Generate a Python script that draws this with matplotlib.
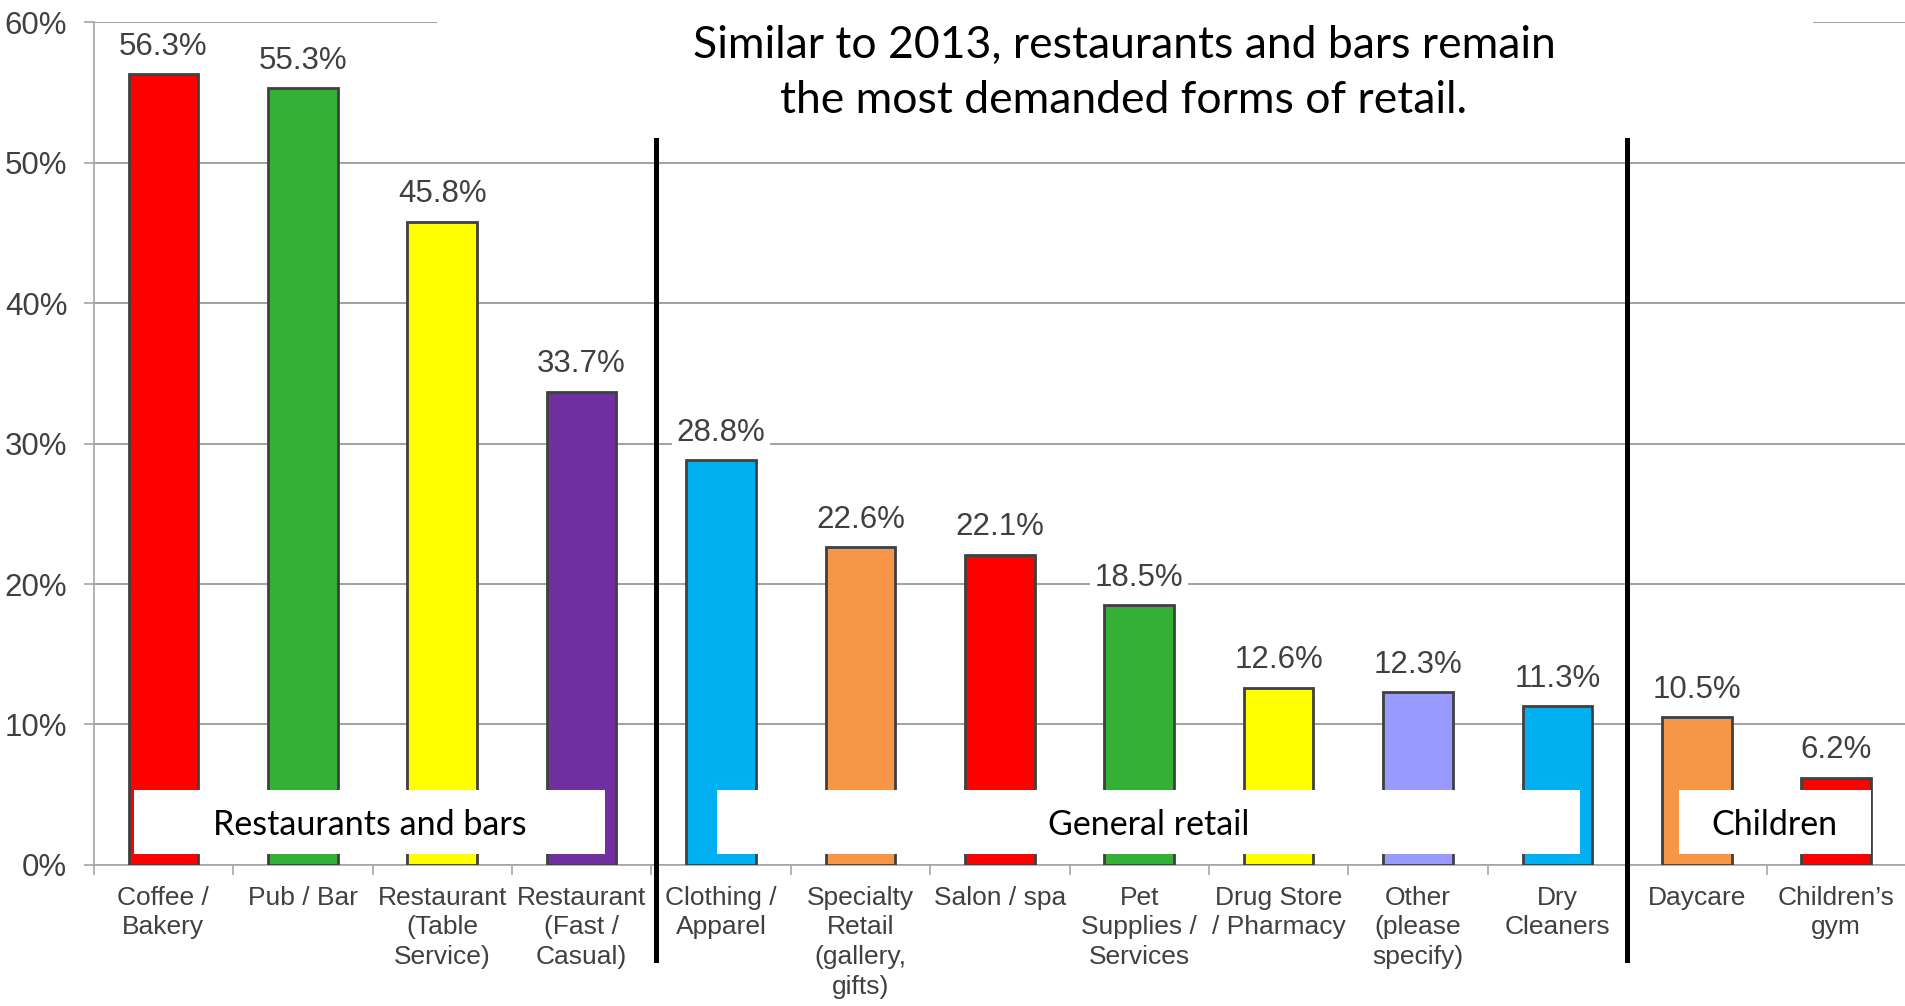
import matplotlib.pyplot as plt
from matplotlib.patches import Rectangle

categories = ['Coffee /\nBakery', 'Pub / Bar', 'Restaurant\n(Table\nService)', 'Restaurant\n(Fast /\nCasual)',
              'Clothing /\nApparel', 'Specialty\nRetail\n(gallery,\ngifts)', 'Salon / spa',
              'Pet\nSupplies /\nServices', 'Drug Store\n/ Pharmacy', 'Other\n(please\nspecify)',
              'Dry\nCleaners', 'Daycare', 'Children\u2019s\ngym']
values = [56.3, 55.3, 45.8, 33.7, 28.8, 22.6, 22.1, 18.5, 12.6, 12.3, 11.3, 10.5, 6.2]
colors = ['#FF0000', '#33B035', '#FFFF00', '#7030A0', '#00B0F0', '#F79646', '#FF0000',
          '#33B035', '#FFFF00', '#9999FF', '#00B0F0', '#F79646', '#FF0000']

groups = ['Restaurants and bars', 'General retail', 'Children']
group_spans = [(-0.21, 3.17), (3.97, 10.16), (10.87, 12.25)]
dividers = [3.53, 10.5]

title = 'Similar to 2013, restaurants and bars remain\nthe most demanded forms of retail.'

fig = plt.figure(figsize=(19.05, 10.06), dpi=100)
ax = fig.add_axes([0.0492, 0.1402, 0.9513, 0.8378])

x = range(len(values))
bars = ax.bar(x, values, width=0.5, color=colors, edgecolor='#404040', linewidth=2, zorder=3)

ax.set_xlim(-0.5, len(values) - 0.5)
ax.set_ylim(0, 60)
ax.set_yticks(range(0, 61, 10))
ax.set_yticklabels([f'{v}%' for v in range(0, 61, 10)])
ax.yaxis.grid(True, color='#888888', linewidth=1.1, zorder=0)
ax.set_axisbelow(True)

ax.set_xticks(list(x))
ax.set_xticklabels(categories, linespacing=1.3, va='top')
ax.set_xticks([i - 0.5 for i in range(len(values) + 1)], minor=True)
ax.tick_params(axis='x', which='major', length=0, pad=15, labelsize=19, labelcolor='#404040')
ax.tick_params(axis='x', which='minor', length=7, color='#A6A6A6', width=1.2)
ax.tick_params(axis='y', length=7, color='#A6A6A6', width=1.2, pad=12, labelsize=22.5,
               labelcolor='#404040')
for lab in ax.get_xticklabels() + ax.get_yticklabels():
    lab.set_family('Liberation Sans')

for s in ['top', 'right']:
    ax.spines[s].set_visible(False)
ax.spines['left'].set_color('#A6A6A6')
ax.spines['bottom'].set_color('#A6A6A6')
ax.spines['left'].set_linewidth(1.2)
ax.spines['bottom'].set_linewidth(1.2)

for xi, v in zip(x, values):
    ax.annotate(f'{v}%', (xi, v), xytext=(0, 9), textcoords='offset points',
                ha='center', va='bottom', fontsize=22.5, color='#404040',
                family='Liberation Sans', zorder=5,
                bbox=dict(boxstyle='square,pad=0.15', fc='white', ec='none'))

for name, (x0, x1) in zip(groups, group_spans):
    ax.add_patch(Rectangle((x0, 0.78), x1 - x0, 4.56, facecolor='white', edgecolor='none', zorder=6))
    ax.text((x0 + x1) / 2, 0.78 + 4.56 / 2 - 0.2, name, ha='center', va='center', fontsize=24.5,
            family='Lato', color='black', zorder=7)

for d in dividers:
    ax.plot([d, d], [-6.76, 51.6], color='black', linewidth=3.6, clip_on=False, zorder=8)

fig.patches.append(Rectangle((437 / 1905, 1 - 130 / 1006), (1813 - 437) / 1905, 130 / 1006,
                             transform=fig.transFigure, facecolor='white', edgecolor='none', zorder=9))
fig.text(1124 / 1905, 1 - 73 / 1006, title, ha='center', va='center', fontsize=32, family='Lato',
         color='black', linespacing=1.4, zorder=10)

fig.savefig('out.png', dpi=100)
